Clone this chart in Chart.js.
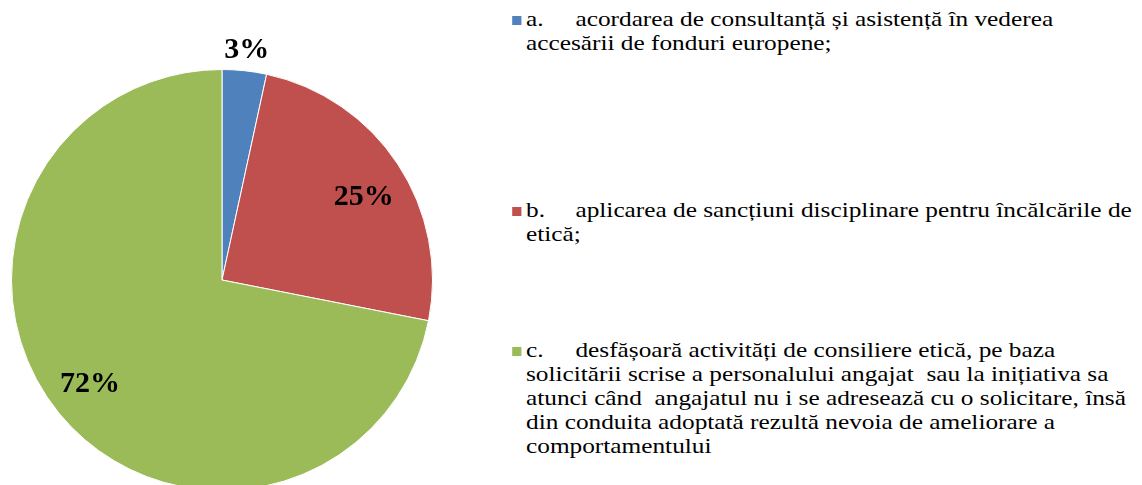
<!DOCTYPE html>
<html>
<head>
<meta charset="utf-8">
<script src="https://cdn.jsdelivr.net/npm/chart.js@4.4.1/dist/chart.umd.min.js"></script>
<style>
  html, body { margin:0; padding:0; background:#fff; width:1142px; height:485px; overflow:hidden; }
  #wrap { position:absolute; left:0; top:0; width:444px; height:520px; }
  #legend { position:absolute; left:0; top:0; font-family:'Liberation Serif','Times New Roman',serif; font-size:22px; line-height:24px; color:#000; }
  .item { position:absolute; left:526px; white-space:pre; transform:scaleX(1.15); transform-origin:0 0; }
  .mark { position:absolute; left:-12px; width:8px; height:9px; }
  .lbl { display:inline-block; width:43px; }
</style>
</head>
<body>
<div id="wrap"><canvas id="c"></canvas></div>
<div id="legend"></div>
<script>
// Data
const letters = ["a.", "b.", "c."];
const categories = [
  ["acordarea de consultanță și asistență în vederea", "accesării de fonduri europene;"],
  ["aplicarea de sancțiuni disciplinare pentru încălcările de", "etică;"],
  ["desfășoară activități de consiliere etică, pe baza",
   "solicitării scrise a personalului angajat  sau la inițiativa sa",
   "atunci când  angajatul nu i se adresează cu o solicitare, însă",
   "din conduita adoptată rezultă nevoia de ameliorare a",
   "comportamentului"]
];
const values = [3.4, 24.7, 71.9];
const colors = ["#4F81BD", "#C0504D", "#9BBB59"];

const legendTops = [7, 198, 338];
const labelRadius = [1.1, 0.78, 0.8];
const labelAngleShift = [0, 3, 1];

const total = values.reduce((a, b) => a + b, 0);
const pctLabels = values.map(v => Math.round(v / total * 100) + "%");

const labelPlugin = {
  id: "pctLabels",
  afterDatasetsDraw(chart) {
    const ctx = chart.ctx;
    const meta = chart.getDatasetMeta(0);
    ctx.save();
    ctx.font = "bold 30px 'Liberation Serif', 'Times New Roman', serif";
    ctx.fillStyle = "#000";
    ctx.textAlign = "center";
    ctx.textBaseline = "middle";
    meta.data.forEach((arc, i) => {
      const p = arc.getProps(["x", "y", "startAngle", "endAngle", "outerRadius"], true);
      const mid = (p.startAngle + p.endAngle) / 2 + labelAngleShift[i] * Math.PI / 180;
      const r = p.outerRadius * labelRadius[i];
      ctx.fillText(pctLabels[i], p.x + Math.cos(mid) * r, p.y + Math.sin(mid) * r);
    });
    ctx.restore();
  }
};

new Chart(document.getElementById("c"), {
  type: "pie",
  data: {
    labels: categories.map(l => l.join(" ")),
    datasets: [{ data: values, backgroundColor: colors, borderColor: "#ffffff", borderWidth: 1 }]
  },
  options: {
    responsive: true,
    maintainAspectRatio: false,
    animation: false,
    layout: { padding: { top: 69, left: 11, right: 11, bottom: 29 } },
    plugins: { legend: { display: false }, tooltip: { enabled: false } }
  },
  plugins: [labelPlugin]
});

const legend = document.getElementById("legend");
categories.forEach((lines, i) => {
  const div = document.createElement("div");
  div.className = "item";
  div.style.top = legendTops[i] + "px";
  const m = document.createElement("span");
  m.className = "mark";
  m.style.background = colors[i];
  m.style.top = "9px";
  div.appendChild(m);
  const l = document.createElement("span");
  l.className = "lbl";
  l.textContent = letters[i];
  div.appendChild(l);
  div.appendChild(document.createTextNode(lines.join("\n")));
  legend.appendChild(div);
});
</script>
</body>
</html>
